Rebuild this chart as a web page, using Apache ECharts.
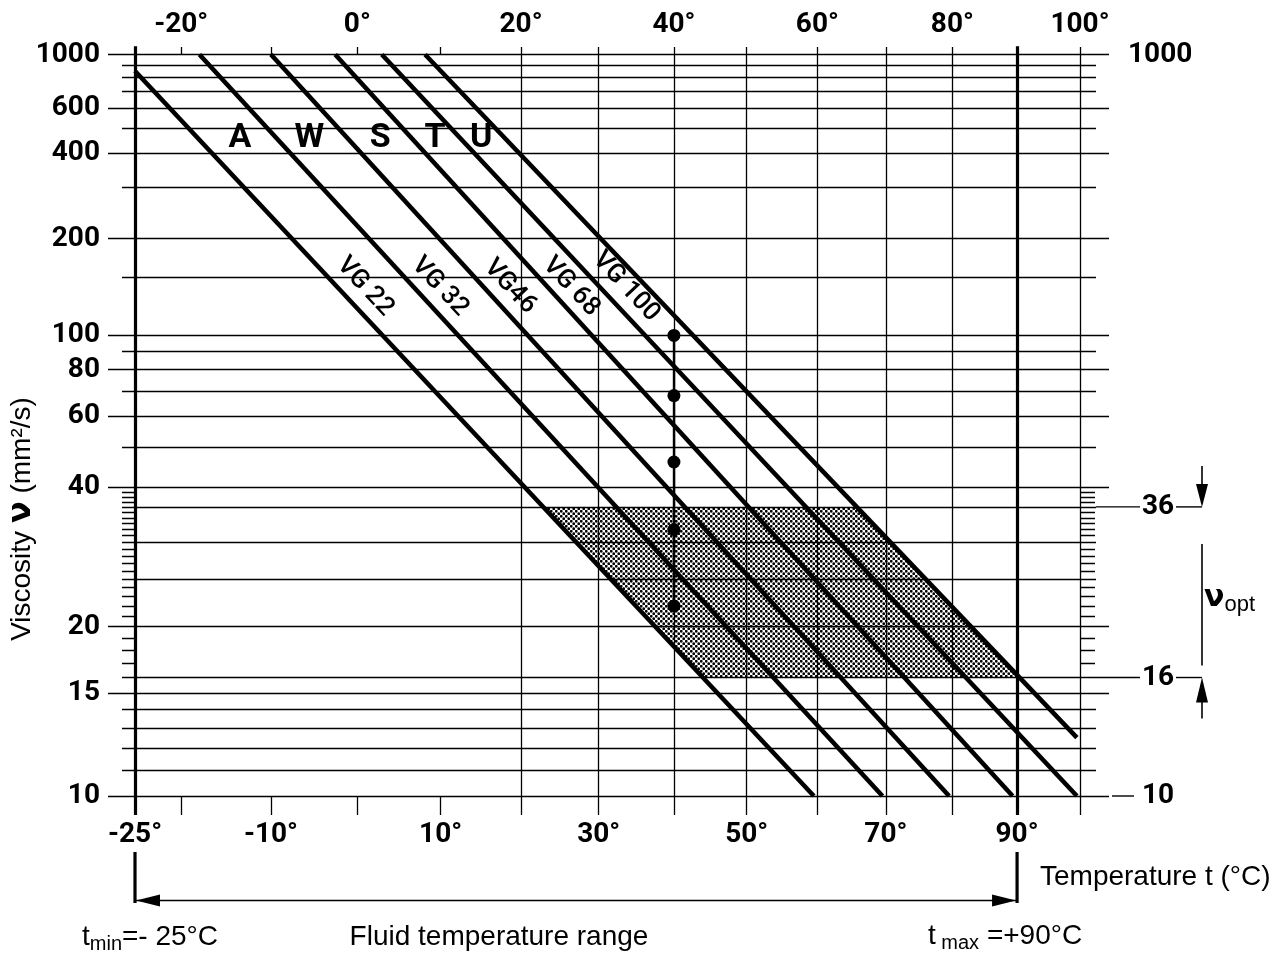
<!DOCTYPE html>
<html><head><meta charset="utf-8">
<script src="https://cdn.jsdelivr.net/npm/echarts@6/dist/echarts.min.js"></script>
<style>html,body{margin:0;padding:0;background:#fff}#c{width:1288px;height:954px}</style>
</head><body><div id="c"></div>
<script>
// ---------------- data ----------------
const topTempTicks = [-20, 0, 20, 40, 60, 80, 100];
const bottomTempTicks = [-25, -10, 10, 30, 50, 70, 90];
const fullTempLines = [20, 30, 40, 50, 60, 70, 80, 100];
const heavyTempLines = [-25, 90];
const shortTempTicks = [-20, -10, 0, 10];
const leftViscTicks = [1000, 600, 400, 200, 100, 80, 60, 40, 20, 15, 10];
const rightViscTicks = [1000, 36, 16, 10];
const minorViscLines = [900, 800, 700, 500, 300, 150, 90, 70, 50, 36, 30, 25, 16, 14, 13, 12, 11];
const minorViscTicks = [39, 38, 37, 35, 34, 33, 32, 31, 29, 28, 27, 26, 24, 23, 22, 21, 19, 18, 17];
const vgLineStartT = [-25, -18, -10, -2.6, 2.9, 8.1];
const vgLineStartNu = [850, 1000, 1000, 1000, 1000, 1000];
const vgLineEndT = [59.5, 69.5, 79.5, 89.3, 99.5, 99.5];
const vgLineEndNu = [10, 10, 10, 10, 10, 12.5];
const vgLabels = ['VG 22', 'VG 32', 'VG46', 'VG 68', 'VG 100'];
const vgLabelT = [0.9, 9.9, 18.6, 26.4, 33.6];
const vgLabelNu = [140, 140, 140, 140, 140];
const classLetters = ['A', 'W', 'S', 'T', 'U'];
const classLetterT = [-13.5, -5.6, 2.7, 9.3, 15.0];
const classLetterNu = [455, 455, 455, 455, 455];
const refTemp = 40;
const refViscosities = [100, 68, 46, 32, 22];
const optRange = [16, 36];
const tMin = -25, tMax = 90;

// ---------------- scales (Walther-type chart) ----------------
const NU_SHIFT = 0.8;
const X = t => Math.log10(t + 273.15);
const W = v => Math.log10(Math.log10(v + NU_SHIFT));

// layout
const G = {left: 108, right: 1109, top: 47, bottom: 815};
const PX_T_LO = 135, PX_T_HI = 1080;      // pixel of -25 and 100 deg
const PX_NU_HI = 54.5, PX_NU_LO = 796;    // pixel of 1000 and 10
const kx = (X(100) - X(-25)) / (PX_T_HI - PX_T_LO);
const xMin = X(-25) - (PX_T_LO - G.left) * kx;
const xMax = X(100) + (G.right - PX_T_HI) * kx;
const ky = (W(1000) - W(10)) / (PX_NU_LO - PX_NU_HI);
const yMin = W(10) - (G.bottom - PX_NU_LO) * ky;
const yMax = W(1000) + (PX_NU_HI - G.top) * ky;
const px = n => n * kx;

// ---------------- grid lines ----------------
const gridLines = [];
leftViscTicks.forEach(v => gridLines.push({coords: [[xMin, W(v)], [xMax, W(v)]], lineStyle: {width: 1.4}}));
minorViscLines.forEach(v => gridLines.push({coords: [[xMin + px(14), W(v)], [xMin + px(988), W(v)]]}));
fullTempLines.forEach(t => gridLines.push({coords: [[X(t), yMin], [X(t), yMax]]}));
heavyTempLines.forEach(t => gridLines.push({coords: [[X(t), yMin], [X(t), yMax + 6 * ky]], lineStyle: {width: 3.2}}));
shortTempTicks.forEach(t => {
  gridLines.push({coords: [[X(t), yMax], [X(t), W(1000)]]});
  gridLines.push({coords: [[X(t), W(10)], [X(t), yMin]]});
});
minorViscTicks.forEach(v => {
  gridLines.push({coords: [[xMin + px(14), W(v)], [X(-25), W(v)]]});
  gridLines.push({coords: [[X(100), W(v)], [X(100) + px(15), W(v)]]});
});
gridLines.push({coords: [[X(refTemp), W(refViscosities[0])], [X(refTemp), W(refViscosities[refViscosities.length - 1])]], lineStyle: {width: 2.4}});

// ---------------- hatched optimum area ----------------
function lineXAt(i, w) {
  const x1 = X(vgLineStartT[i]), w1 = W(vgLineStartNu[i]), x2 = X(vgLineEndT[i]), w2 = W(vgLineEndNu[i]);
  return x1 + (w - w1) * (x2 - x1) / (w2 - w1);
}
function lineWAt(i, x) {
  const x1 = X(vgLineStartT[i]), w1 = W(vgLineStartNu[i]), x2 = X(vgLineEndT[i]), w2 = W(vgLineEndNu[i]);
  return w1 + (x - x1) * (w2 - w1) / (x2 - x1);
}
const lastLine = vgLineStartT.length - 1;
const wTop = W(optRange[1]), wBot = W(optRange[0]);
const hatch = [[lineXAt(0, wTop), wTop], [lineXAt(lastLine, wTop), wTop]];
const xCap = X(tMax), wCap = lineWAt(lastLine, xCap);
if (wCap > wBot) { hatch.push([xCap, wCap]); hatch.push([xCap, wBot]); }
else hatch.push([lineXAt(lastLine, wBot), wBot]);
hatch.push([lineXAt(0, wBot), wBot]);

const pc = document.createElement('canvas');
pc.width = 5; pc.height = 5;
const pg = pc.getContext('2d');
pg.fillStyle = '#fff'; pg.fillRect(0, 0, 5, 5);
pg.fillStyle = '#000';
pg.beginPath(); pg.arc(1.25, 1.25, 1.4, 0, Math.PI * 2); pg.fill();
pg.beginPath(); pg.arc(3.75, 3.75, 1.4, 0, Math.PI * 2); pg.fill();

// ---------------- chart ----------------
const NUM_FONT = {fontFamily: 'Roboto', fontWeight: 'bold', fontSize: 28, color: '#000'};
const chart = echarts.init(document.getElementById('c'), null, {renderer: 'canvas'});

const vgSeries = vgLineStartT.map((t, i) => ({
  type: 'line', silent: true, symbol: 'none', z: 5, animation: false,
  lineStyle: {color: '#000', width: 4.6},
  data: [[X(t), W(vgLineStartNu[i])], [X(vgLineEndT[i]), W(vgLineEndNu[i])]]
}));

const option = {
  backgroundColor: '#fff',
  animation: false,
  grid: {left: G.left, right: 1288 - G.right, top: G.top, bottom: 954 - G.bottom, containLabel: false},
  xAxis: [
    {type: 'value', min: xMin, max: xMax, position: 'bottom',
      axisLine: {show: false}, axisTick: {show: false}, splitLine: {show: false},
      axisLabel: Object.assign({customValues: bottomTempTicks.map(X), margin: 6,
        formatter: v => Math.round(Math.pow(10, v) - 273.15) + '°'}, NUM_FONT)},
    {type: 'value', min: xMin, max: xMax, position: 'top',
      axisLine: {show: false}, axisTick: {show: false}, splitLine: {show: false},
      axisLabel: Object.assign({customValues: topTempTicks.map(X), margin: 8,
        formatter: v => Math.round(Math.pow(10, v) - 273.15) + '°'}, NUM_FONT)}
  ],
  yAxis: [
    {type: 'value', min: yMin, max: yMax, position: 'left',
      axisLine: {show: false}, axisTick: {show: false}, splitLine: {show: false},
      axisLabel: Object.assign({customValues: leftViscTicks.map(W), margin: 8,
        formatter: v => String(Math.round(Math.pow(10, Math.pow(10, v)) - NU_SHIFT))}, NUM_FONT)},
    {type: 'value', min: yMin, max: yMax, position: 'right',
      axisLine: {show: false}, axisTick: {show: false}, splitLine: {show: false},
      axisLabel: Object.assign({customValues: rightViscTicks.map(W), margin: 19,
        formatter: v => {
          const n = Math.round(Math.pow(10, Math.pow(10, v)) - NU_SHIFT);
          return n >= 1000 ? String(n) : '{p|' + n + '}';
        },
        rich: {p: {padding: [0, 0, 0, 14], fontFamily: 'Roboto', fontWeight: 'bold', fontSize: 28, color: '#000'}}
      }, NUM_FONT)}
  ],
  series: [
    {type: 'custom', silent: true, z: 1, clip: false,
      data: [hatch[0]],
      renderItem: (params, api) => ({
        type: 'polygon',
        shape: {points: hatch.map(p => api.coord(p))},
        style: {fill: {image: pc, repeat: 'repeat'}, stroke: null}
      })},
    {type: 'lines', coordinateSystem: 'cartesian2d', silent: true, z: 3,
      lineStyle: {color: '#000', width: 1.3, opacity: 1, curveness: 0},
      data: gridLines},
    ...vgSeries,
    {type: 'scatter', silent: true, z: 6, symbol: 'circle', symbolSize: 13,
      itemStyle: {color: '#000', opacity: 1},
      data: refViscosities.map(v => [X(refTemp), W(v)])},
    {type: 'scatter', silent: true, z: 7, symbolSize: 0,
      itemStyle: {opacity: 1},
      label: {show: true, position: 'inside', rotate: -47, color: '#000', opacity: 1,
        fontFamily: 'Roboto', fontWeight: 500, fontSize: 26, formatter: p => p.name},
      data: vgLabels.map((s, i) => ({name: s, value: [X(vgLabelT[i]), W(vgLabelNu[i])]}))},
    {type: 'scatter', silent: true, z: 7, symbolSize: 0,
      itemStyle: {opacity: 1},
      label: {show: true, position: 'inside', color: '#000', opacity: 1,
        fontFamily: 'Roboto', fontWeight: 'bold', fontSize: 34, formatter: p => p.name},
      data: classLetters.map((s, i) => ({name: s, value: [X(classLetterT[i]), W(classLetterNu[i])]}))}
  ]
};
chart.setOption(option);

// ---------------- annotations (positions from the axes) ----------------
const P = (t, v) => chart.convertToPixel({gridIndex: 0}, [X(t), W(v)]);
const xLo = P(tMin, 10)[0], xHi = P(tMax, 10)[0];
const y36 = P(0, optRange[1])[1], y16 = P(0, optRange[0])[1], y10 = P(0, 10)[1];
const gr = [];
const seg = (x1, y1, x2, y2, w) => gr.push({type: 'line', silent: true, shape: {x1, y1, x2, y2}, style: {stroke: '#000', lineWidth: w || 1.4}});
const tri = pts => gr.push({type: 'polygon', silent: true, shape: {points: pts}, style: {fill: '#000'}});
const arrowY = 900.5;
seg(xLo, 852, xLo, 903, 3.2); seg(xHi, 852, xHi, 903, 3.2);
seg(xLo, arrowY, xHi, arrowY, 1.5);
tri([[xLo + 1, arrowY], [xLo + 25, arrowY - 6], [xLo + 25, arrowY + 6]]);
tri([[xHi - 1, arrowY], [xHi - 25, arrowY - 6], [xHi - 25, arrowY + 6]]);
[y36, y16].forEach(y => { seg(1096, y, 1140, y, 1.4); seg(1176, y, 1202, y, 1.4); });
seg(1112, y10, 1134, y10, 1.4);
const ax = 1202;
seg(ax, 466, ax, y36 - 20, 1.6); tri([[ax, y36], [ax - 6, y36 - 23], [ax + 6, y36 - 23]]);
seg(ax, y36 + 37, ax, y16 - 12, 1.6);
tri([[ax, y16], [ax - 6, y16 + 25], [ax + 6, y16 + 25]]); seg(ax, y16 + 22, ax, y16 + 41, 1.6);

const TXT = {fontFamily: 'Liberation Sans', fontSize: 28, fill: '#000'};
const text = (x, y, t, extra, props) => gr.push(Object.assign({type: 'text', silent: true, x, y,
  style: Object.assign({text: t, align: 'left', verticalAlign: 'middle'}, TXT, extra || {})}, props || {}));
const subRich = {
  a: {fontFamily: 'Liberation Sans', fontSize: 28, fill: '#000', color: '#000'},
  s: {fontFamily: 'Liberation Sans', fontSize: 20, fill: '#000', color: '#000', padding: [15, 0, 0, 0]}
};
text(82, 937, '{a|t}{s|min}{a|=- 25°C}', {rich: subRich});
text(499, 937, 'Fluid temperature range', {align: 'center'});
text(928, 936, '{a|t}{s| max}{a| =+90°C}', {rich: subRich});
text(1040, 877, 'Temperature t (°C)');
text(1204, 598, '{n|ν}{s|opt}', {rich: {
  n: {fontFamily: 'DejaVu Sans', fontWeight: 'bold', fontSize: 30, fill: '#000', color: '#000'},
  s: {fontFamily: 'Liberation Sans', fontSize: 22, fill: '#000', color: '#000', padding: [14, 0, 0, 0]}
}});
text(22, 519, '{a|Viscosity }{n|ν}{a| (mm²/s)}', {align: 'center', rich: {
  a: {fontFamily: 'Liberation Sans', fontSize: 28, fill: '#000', color: '#000'},
  n: {fontFamily: 'DejaVu Sans', fontWeight: 'bold', fontSize: 32, fill: '#000', color: '#000'}
}}, {rotation: Math.PI / 2});

chart.setOption({graphic: gr});
</script>
</body></html>
